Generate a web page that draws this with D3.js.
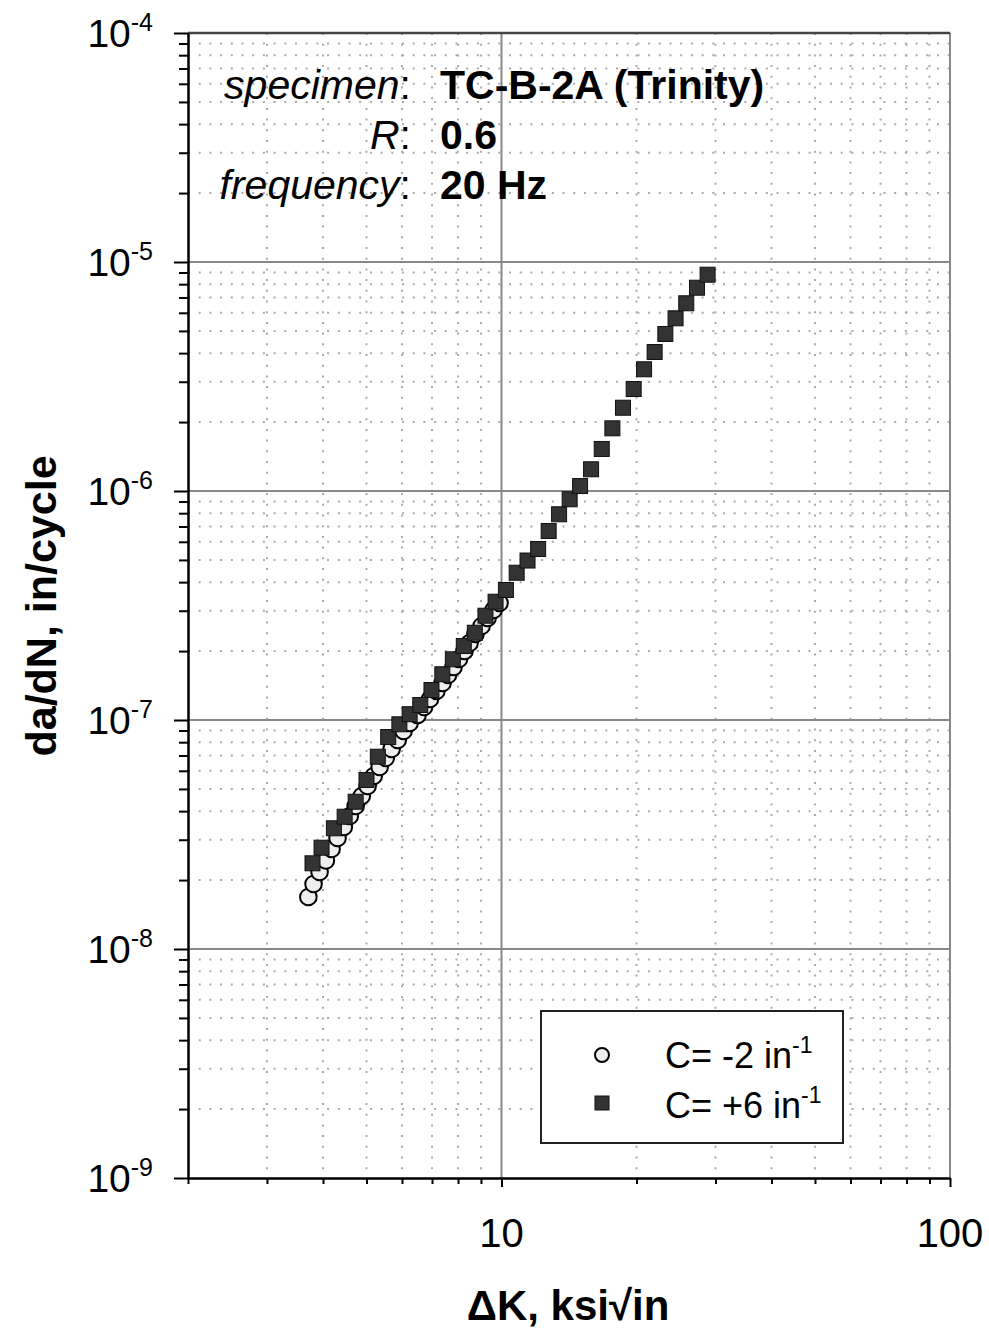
<!DOCTYPE html>
<html>
<head>
<meta charset="utf-8">
<script src="https://cdn.jsdelivr.net/npm/d3@7"></script>
<style>
  body { margin: 0; background: #fff; }
  svg { display: block; font-family: "Liberation Sans", Arial, sans-serif; }
</style>
</head>
<body>
<div id="chart"></div>
<script>
// C = -2 in^-1 (open circles)
const circleK = [3.71, 3.81, 3.93, 4.06, 4.18, 4.31, 4.45, 4.59, 4.73, 4.88, 5.03,
  5.19, 5.35, 5.52, 5.69, 5.87, 6.05, 6.24, 6.50, 6.72, 6.93, 7.16, 7.39, 7.60,
  7.82, 8.04, 8.27, 8.49, 8.75, 9.03, 9.31, 9.60, 9.90];
const circleRate = [1.687e-8, 1.922e-8, 2.169e-8, 2.434e-8, 2.733e-8, 3.052e-8,
  3.410e-8, 3.808e-8, 4.212e-8, 4.657e-8, 5.150e-8, 5.694e-8, 6.234e-8, 6.825e-8,
  7.472e-8, 8.180e-8, 8.954e-8, 9.703e-8, 1.051e-7, 1.140e-7, 1.235e-7, 1.338e-7,
  1.450e-7, 1.572e-7, 1.703e-7, 1.846e-7, 2.000e-7, 2.168e-7, 2.374e-7, 2.573e-7,
  2.788e-7, 3.021e-7, 3.242e-7];

// C = +6 in^-1 (filled squares)
const squareK = [3.79, 3.97, 4.23, 4.47, 4.73, 5.00, 5.30, 5.59, 5.92, 6.24, 6.59,
  6.98, 7.38, 7.79, 8.24, 8.72, 9.21, 9.70, 10.23, 10.81, 11.43, 12.07, 12.74,
  13.44, 14.19, 14.97, 15.84, 16.73, 17.67, 18.66, 19.71, 20.79, 21.95, 23.19,
  24.44, 25.82, 27.28, 28.81];
const squareRate = [2.367e-8, 2.769e-8, 3.366e-8, 3.781e-8, 4.396e-8, 5.470e-8,
  6.913e-8, 8.428e-8, 9.577e-8, 1.060e-7, 1.163e-7, 1.352e-7, 1.584e-7, 1.841e-7,
  2.104e-7, 2.405e-7, 2.854e-7, 3.285e-7, 3.696e-7, 4.396e-7, 4.970e-7, 5.579e-7,
  6.689e-7, 7.914e-7, 9.200e-7, 1.051e-6, 1.244e-6, 1.526e-6, 1.878e-6, 2.310e-6,
  2.788e-6, 3.400e-6, 4.045e-6, 4.849e-6, 5.677e-6, 6.603e-6, 7.722e-6, 8.800e-6];

const xTickLabels = [10, 100];
const yTickExponents = [-4, -5, -6, -7, -8, -9];
const legendLabels = ["C= -2 in", "C= +6 in"];
const annotationKeys = ["specimen", "R", "frequency"];
const annotationValues = ["TC-B-2A (Trinity)", "0.6", "20 Hz"];

const W = 989, H = 1331;
const svg = d3.select("#chart").append("svg")
  .attr("width", W).attr("height", H);

const x = d3.scaleLog().domain([2, 100]).range([188, 950]);
const y = d3.scaleLog().domain([1e-9, 1e-4]).range([1178, 33]);

// minor values
const xMinor = [];
[1, 10].forEach(d => { for (let k = 2; k <= 9; k++) xMinor.push(k * d); });
const xMinorIn = xMinor.filter(v => v > 2);
const yMinor = [];
for (let e = -9; e <= -5; e++) for (let k = 2; k <= 9; k++) yMinor.push(k * Math.pow(10, e));
const xMajor = [10, 100];
const yMajor = yTickExponents.map(e => Math.pow(10, e));

// dotted minor grid
const grid = svg.append("g");
grid.selectAll(".vmin").data(xMinorIn).enter().append("line")
  .attr("x1", d => x(d)).attr("x2", d => x(d))
  .attr("y1", y(1e-4)).attr("y2", y(1e-9))
  .attr("stroke", "#aaa").attr("stroke-width", 2)
  .attr("stroke-dasharray", "2,8.7");
grid.selectAll(".hmin").data(yMinor).enter().append("line")
  .attr("x1", x(2)).attr("x2", x(100))
  .attr("y1", d => y(d)).attr("y2", d => y(d))
  .attr("stroke", "#aaa").attr("stroke-width", 2)
  .attr("stroke-dasharray", "2,8.7");

// solid major grid
grid.selectAll(".vmaj").data(xMajor).enter().append("line")
  .attr("x1", d => x(d)).attr("x2", d => x(d))
  .attr("y1", y(1e-4)).attr("y2", y(1e-9))
  .attr("stroke", "#888").attr("stroke-width", 2);
grid.selectAll(".hmaj").data(yMajor.filter(v => v > 1e-9 && v < 1e-4)).enter().append("line")
  .attr("x1", x(2)).attr("x2", x(100))
  .attr("y1", d => y(d)).attr("y2", d => y(d))
  .attr("stroke", "#888").attr("stroke-width", 2);

// top border
svg.append("line")
  .attr("x1", x(2)).attr("x2", x(100))
  .attr("y1", y(1e-4)).attr("y2", y(1e-4))
  .attr("stroke", "#444").attr("stroke-width", 2.5);

// axes
function styleAxis(g) {
  g.selectAll("path, line").attr("stroke", "#000").attr("stroke-width", 2);
  g.selectAll("text").remove();
}
svg.append("g").attr("transform", `translate(${x(2)},0)`)
  .call(d3.axisLeft(y).tickValues(yMinor).tickSize(9).tickSizeOuter(0).tickFormat(""))
  .call(styleAxis);
svg.append("g").attr("transform", `translate(${x(2)},0)`)
  .call(d3.axisLeft(y).tickValues(yMajor).tickSize(14).tickSizeOuter(0).tickFormat(""))
  .call(styleAxis);
svg.append("g").attr("transform", `translate(0,${y(1e-9)})`)
  .call(d3.axisBottom(x).tickValues(xMinor).tickSize(6).tickSizeOuter(0).tickFormat(""))
  .call(styleAxis);
svg.append("g").attr("transform", `translate(0,${y(1e-9)})`)
  .call(d3.axisBottom(x).tickValues(xMajor).tickSize(9).tickSizeOuter(0).tickFormat(""))
  .call(styleAxis);

// y tick labels 10^n
yTickExponents.forEach(e => {
  const t = svg.append("text")
    .attr("x", 153).attr("y", y(Math.pow(10, e)) + 14)
    .attr("text-anchor", "end")
    .attr("font-size", 39).attr("fill", "#000");
  t.append("tspan").text("10");
  t.append("tspan").attr("dy", -16).attr("font-size", 25).text(e);
});

// x tick labels
svg.selectAll(".xlab").data(xTickLabels).enter().append("text")
  .attr("x", d => x(d)).attr("y", 1247)
  .attr("text-anchor", "middle").attr("font-size", 40)
  .text(d => d);

// axis titles
svg.append("text")
  .attr("x", 568).attr("y", 1320)
  .attr("text-anchor", "middle").attr("font-size", 42).attr("font-weight", "bold")
  .text("\u0394K, ksi\u221Ain");
svg.append("text")
  .attr("transform", "translate(56,606) rotate(-90)")
  .attr("text-anchor", "middle").attr("font-size", 43).attr("font-weight", "bold")
  .text("da/dN, in/cycle");

// data
const circles = circleK.map((k, i) => ({ k, r: circleRate[i] }));
const squares = squareK.map((k, i) => ({ k, r: squareRate[i] }));

svg.append("g").selectAll("circle").data(circles).enter().append("circle")
  .attr("cx", d => x(d.k)).attr("cy", d => y(d.r)).attr("r", 8.3)
  .attr("fill", "#eee").attr("stroke", "#000").attr("stroke-width", 2);

const sq = 15;
svg.append("g").selectAll("rect").data(squares).enter().append("rect")
  .attr("x", d => x(d.k) - sq / 2).attr("y", d => y(d.r) - sq / 2)
  .attr("width", sq).attr("height", sq)
  .attr("fill", "#333").attr("stroke", "#111").attr("stroke-width", 1);

// annotation block
annotationKeys.forEach((key, i) => {
  const by = 99 + i * 50;
  const t = svg.append("text").attr("x", 411).attr("y", by)
    .attr("text-anchor", "end").attr("font-size", 41);
  t.append("tspan").attr("font-style", "italic").text(key);
  t.append("tspan").text(":");
  svg.append("text").attr("x", 440).attr("y", by)
    .attr("font-size", 41).attr("font-weight", "bold")
    .text(annotationValues[i]);
});

// legend
const lg = svg.append("g");
lg.append("rect").attr("x", 541).attr("y", 1011).attr("width", 302).attr("height", 132)
  .attr("fill", "#fff").attr("stroke", "#222").attr("stroke-width", 2);
lg.append("circle").attr("cx", 602).attr("cy", 1055).attr("r", 7)
  .attr("fill", "#eee").attr("stroke", "#000").attr("stroke-width", 2);
lg.append("rect").attr("x", 595).attr("y", 1096).attr("width", 14).attr("height", 14)
  .attr("fill", "#333").attr("stroke", "#111").attr("stroke-width", 1);
legendLabels.forEach((lab, i) => {
  const t = lg.append("text").attr("x", 665).attr("y", 1068 + i * 50)
    .attr("font-size", 36);
  t.append("tspan").text(lab);
  t.append("tspan").attr("dy", -15).attr("font-size", 23).text("-1");
});
</script>
</body>
</html>
